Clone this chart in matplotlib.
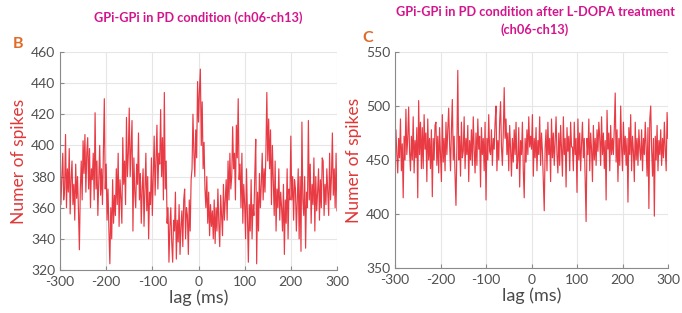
import numpy as np
import matplotlib
matplotlib.use("Agg")
import matplotlib.pyplot as plt

plt.rcParams['font.family'] = ['Lato', 'DejaVu Sans']
plt.rcParams['axes.unicode_minus'] = False

lag = np.arange(-300, 301, 2)

counts_pd = [
    392, 362, 380, 395, 365, 372, 407, 360, 385, 370, 398, 356, 378, 390, 362,
    375, 352, 388, 366, 380, 358, 333, 372, 390, 365, 403, 382, 407, 370, 395,
    405, 372, 398, 360, 385, 378, 395, 365, 421, 372, 390, 355, 378, 400, 368,
    385, 362, 395, 430, 372, 388, 352, 372, 345, 324, 360, 340, 378, 350, 368,
    355, 385, 362, 395, 348, 378, 366, 350, 405, 375, 390, 362, 418, 380, 395,
    424, 380, 398, 416, 345, 392, 370, 360, 388, 375, 408, 365, 382, 350, 372,
    385, 348, 372, 395, 358, 380, 340, 370, 362, 392, 355, 382, 406, 368, 390,
    413, 372, 395, 388, 423, 380, 405, 365, 434, 372, 390, 350, 360, 325, 348,
    360, 338, 325, 352, 345, 370, 327, 352, 338, 362, 330, 348, 358, 335, 365,
    372, 340, 360, 355, 330, 365, 345, 378, 385, 420, 395, 380, 410, 392, 441,
    415, 435, 449, 400, 428, 385, 402, 372, 360, 380, 350, 370, 342, 362, 348,
    358, 340, 365, 337, 360, 345, 372, 350, 335, 368, 355, 342, 375, 352, 365,
    378, 352, 390, 365, 395, 372, 380, 412, 385, 395, 365, 413, 392, 430, 378,
    388, 360, 395, 350, 375, 362, 340, 385, 355, 325, 362, 345, 378, 340, 362,
    355, 382, 404, 324, 370, 345, 382, 360, 375, 395, 365, 385, 370, 395, 434,
    390, 417, 385, 410, 362, 400, 378, 355, 390, 345, 372, 360, 385, 352, 370,
    360, 345, 375, 330, 365, 350, 385, 340, 372, 365, 406, 365, 380, 352, 378,
    372, 345, 365, 385, 340, 380, 332, 415, 365, 355, 380, 334, 370, 360, 416,
    365, 388, 350, 375, 362, 392, 345, 380, 358, 370, 385, 352, 378, 360, 392,
    390, 355, 375, 362, 385, 370, 355, 395, 365, 380, 408, 368, 385, 360, 395,
    358,
]

counts_ldopa = [
    445, 478, 455, 438, 470, 452, 488, 440, 465, 415, 472, 450, 497, 455, 470,
    499, 458, 440, 472, 450, 490, 438, 468, 452, 480, 415, 505, 455, 485, 442,
    480, 442, 492, 460, 475, 430, 488, 450, 470, 442, 478, 416, 470, 450, 482,
    485, 445, 472, 438, 480, 455, 430, 492, 448, 470, 440, 485, 455, 478, 498,
    465, 440, 478, 506, 450, 472, 435, 408, 462, 533, 450, 472, 435, 485, 452,
    458, 490, 442, 470, 455, 482, 430, 468, 450, 478, 445, 490, 460, 438, 475,
    445, 488, 460, 472, 425, 480, 455, 470, 440, 485, 413, 470, 450, 492, 458,
    455, 478, 445, 470, 460, 485, 500, 440, 468, 450, 485, 504, 462, 445, 475,
    517, 470, 488, 455, 475, 440, 482, 460, 435, 470, 448, 478, 455, 485, 442,
    450, 480, 425, 468, 455, 485, 440, 415, 470, 448, 478, 455, 490, 462, 472,
    460, 492, 435, 470, 452, 480, 440, 468, 455, 490, 445, 475, 458, 430, 403,
    462, 478, 440, 485, 455, 470, 430, 488, 452, 475, 445, 468, 490, 455, 438,
    475, 445, 482, 460, 435, 490, 455, 470, 425, 480, 458, 472, 440, 485, 462,
    462, 440, 485, 455, 470, 420, 488, 450, 475, 440, 465, 485, 452, 470, 430,
    393, 470, 455, 488, 440, 475, 460, 430, 482, 450, 470, 445, 478, 458, 485,
    470, 445, 490, 455, 475, 442, 468, 413, 496, 460, 475, 440, 482, 455, 470,
    455, 480, 512, 448, 478, 430, 470, 445, 500, 462, 440, 485, 455, 472, 445,
    470, 411, 480, 455, 492, 440, 472, 458, 430, 485, 450, 470, 445, 478, 460,
    450, 478, 440, 470, 455, 485, 462, 435, 480, 405, 488, 500, 460, 435, 470,
    398, 472, 450, 482, 440, 468, 455, 478, 445, 470, 452, 485, 460, 440, 494,
    470,
]

xticks = [-300, -200, -100, 0, 100, 200, 300]
yticks_pd = [320, 340, 360, 380, 400, 420, 440, 460]
yticks_ldopa = [350, 400, 450, 500, 550]

title_pd = "GPi-GPi in PD condition (ch06-ch13)"
title_ldopa = "GPi-GPi in PD condition after L-DOPA treatment\n(ch06-ch13)"

W, H = 682, 313
fig = plt.figure(figsize=(W / 100, H / 100), dpi=100)

line_color = '#e62530'
mag = '#d4148c'
ylab_color = '#e03838'
tick_color = '#505050'

def style(ax, yt, ylim):
    ax.set_xlim(-300, 300)
    ax.set_ylim(*ylim)
    ax.set_xticks(xticks)
    ax.set_yticks(yt)
    ax.grid(True, color='#e6e6e6', linewidth=0.8)
    ax.set_axisbelow(True)
    for s in ['top', 'right']:
        ax.spines[s].set_visible(False)
    for s in ['left', 'bottom']:
        ax.spines[s].set_color('#8a8a8a')
        ax.spines[s].set_linewidth(0.8)
    ax.tick_params(direction='in', length=3, colors='#8a8a8a', labelcolor=tick_color, labelsize=10)
    ax.tick_params(axis='x', pad=4)
    ax.set_xlabel('lag (ms)', fontsize=13, color='#4a4a4a', labelpad=1)
    ax.set_ylabel('Numer of spikes', fontsize=12.5, color=ylab_color, labelpad=3)

ax1 = fig.add_axes([60 / W, 1 - 270 / H, 277 / W, 218 / H])
ax1.plot(lag, counts_pd, color=line_color, linewidth=0.85, alpha=0.9)
style(ax1, yticks_pd, (320, 460))
fig.text(198 / W, 1 - 18 / H, title_pd, ha='center', va='center', color=mag, fontsize=9.2, fontweight='bold')
fig.text(18 / W, 1 - 44 / H, 'B', ha='center', va='center', color='#e06a28', fontsize=11.5, fontweight='bold')

ax2 = fig.add_axes([395 / W, 1 - 268 / H, 273 / W, 216 / H])
ax2.plot(lag, counts_ldopa, color=line_color, linewidth=0.85, alpha=0.9)
style(ax2, yticks_ldopa, (350, 550))
fig.text(535 / W, 1 - 21 / H, title_ldopa, ha='center', va='center', color=mag, fontsize=9.2, fontweight='bold', linespacing=1.45)
fig.text(368 / W, 1 - 38 / H, 'C', ha='center', va='center', color='#e06a28', fontsize=11.5, fontweight='bold')

fig.savefig('out.png', dpi=100)
